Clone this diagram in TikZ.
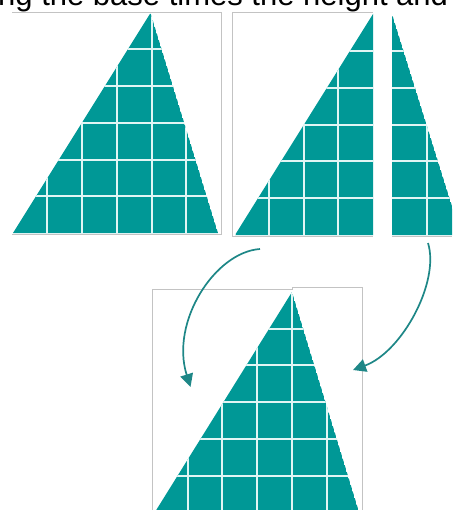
\documentclass[tikz,border=0pt]{standalone}
\usepackage{fontspec}
\setmainfont{Liberation Sans}
\usetikzlibrary{arrows.meta}
\definecolor{tealfill}{RGB}{0,152,150}
\definecolor{gridline}{RGB}{225,245,244}
\definecolor{boxgray}{RGB}{195,195,195}
\definecolor{arrowteal}{RGB}{30,135,135}
\tikzset{
  piece/.style={fill=tealfill, draw=none},
  gridl/.style={draw=gridline, line width=2pt},
  frame/.style={draw=boxgray, line width=0.8pt},
  movearrow/.style={draw=arrowteal, line width=1.7pt, -{Triangle[length=13pt,width=13pt]}},
}
\begin{document}
\begin{tikzpicture}[x=1pt,y=-1pt]
\useasboundingbox (0,0) rectangle (452,510);
\clip (0,0) rectangle (452,510);
% title text (cut at top)
\node[anchor=base west, inner sep=0pt, font=\fontsize{31}{37}\selectfont] (title) at (-2,6) {ng the base times the height and};
% frames
\draw[frame] (12,12) -- (221,12) -- (221,234) -- (12,234);
\draw[frame] (373,12) -- (232,12) -- (232,236) -- (373,236);
\draw[frame] (392,236) -- (452,236);
\draw[frame] (152,512) -- (152,289) -- (292,289) -- (292,287) -- (362,287) -- (362,512);
% left triangle
\begin{scope}
  \clip (13,233) -- (150.5,13) -- (218,233) -- cycle;
  \fill[piece] (13,233) -- (150.5,13) -- (218,233) -- cycle;
  \foreach \k in {1,...,5} {
    \draw[gridl] ({12.3+34.8*\k},0) -- ({12.3+34.8*\k},240);
    \draw[gridl] (0,{233-36.7*\k}) -- (230,{233-36.7*\k});
  }
\end{scope}
% middle right-angled part
\begin{scope}
  \clip (235,235) -- (373,14) -- (373,235) -- cycle;
  \fill[piece] (235,235) -- (373,14) -- (373,235) -- cycle;
  \foreach \k in {1,...,4} {
    \draw[gridl] ({373-34.6*\k},0) -- ({373-34.6*\k},240);
  }
  \foreach \k in {1,...,5} {
    \draw[gridl] (230,{235-36.8*\k}) -- (380,{235-36.8*\k});
  }
\end{scope}
% right cut piece
\begin{scope}
  \clip (392,235) -- (392,14) -- (461,235) -- cycle;
  \fill[piece] (392,235) -- (392,14) -- (461,235) -- cycle;
  \draw[gridl] (427,0) -- (427,240);
  \foreach \k in {1,...,5} {
    \draw[gridl] (385,{235-36.8*\k}) -- (470,{235-36.8*\k});
  }
\end{scope}
% bottom reassembled triangle
\begin{scope}
  \clip (155,512) -- (292,292) -- (359,512) -- cycle;
  \fill[piece] (155,512) -- (292,292) -- (359,512) -- cycle;
  \foreach \k in {-1,...,4} {
    \draw[gridl] ({292-34.8*\k},280) -- ({292-34.8*\k},520);
  }
  \foreach \k in {1,...,5} {
    \draw[gridl] (140,{292+36.7*\k}) -- (370,{292+36.7*\k});
  }
\end{scope}
% arrows
\coordinate (a1s) at (260,249);
\coordinate (a1e) at (190.5,387);
\coordinate (a2s) at (428,243);
\coordinate (a2e) at (353,370);
\draw[movearrow] (a1s) .. controls (215,252) and (170,322) .. (a1e);
\draw[movearrow] (a2s) .. controls (440,282) and (402,352) .. (a2e);
\end{tikzpicture}
\end{document}
